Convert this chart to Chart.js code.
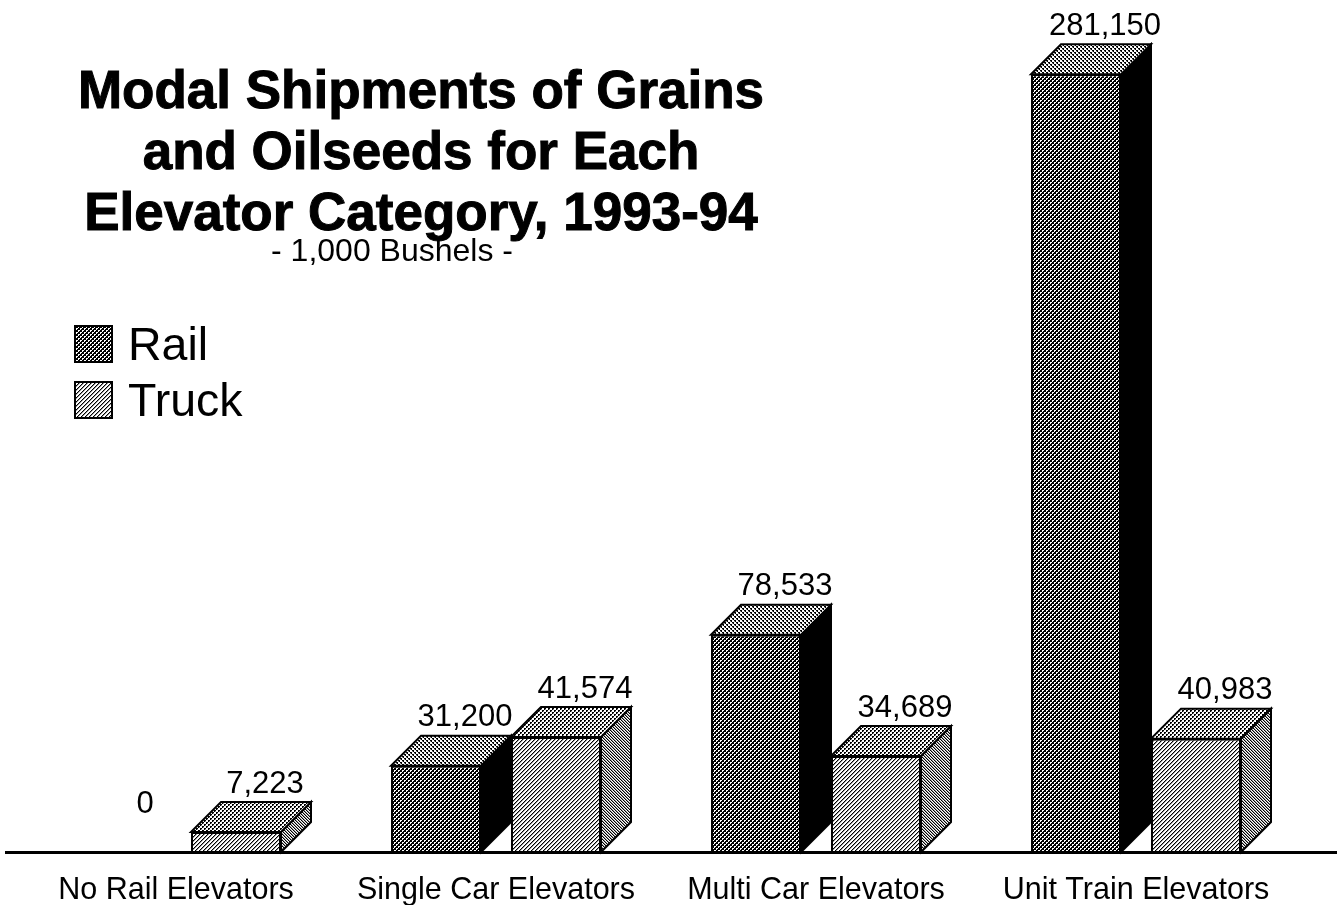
<!DOCTYPE html>
<html>
<head>
<meta charset="utf-8">
<title>Modal Shipments of Grains and Oilseeds</title>
<script src="https://cdn.jsdelivr.net/npm/chart.js@4/dist/chart.umd.min.js"></script>
<style>
  html, body { margin: 0; padding: 0; background: #fff; }
  canvas { display: block; }
</style>
</head>
<body>
<canvas id="chart" width="1340" height="905"></canvas>
<script>
const categories = ['No Rail Elevators', 'Single Car Elevators', 'Multi Car Elevators', 'Unit Train Elevators'];
const railValues = [0, 31200, 78533, 281150];
const truckValues = [7223, 41574, 34689, 40983];
const titleLines = ['Modal Shipments of Grains', 'and Oilseeds for Each', 'Elevator Category, 1993-94'];
const subtitle = '- 1,000 Bushels -';
const FONT = '"Liberation Sans", Arial, sans-serif';
const DEPTH = 30;

// builds a repeating fill out of rows of # (black), + (grey) and . (white)
function tile(rows) {
    const c = document.createElement('canvas');
    c.width = rows[0].length;
    c.height = rows.length;
    const g = c.getContext('2d');
    g.fillStyle = '#fff';
    g.fillRect(0, 0, c.width, c.height);
    rows.forEach((row, y) => {
        [...row].forEach((ch, x) => {
            if (ch === '.') return;
            g.fillStyle = ch === '#' ? '#000' : '#999';
            g.fillRect(x, y, 1, 1);
        });
    });
    return g.createPattern(c, 'repeat');
}

const railFront = tile(['..##', '.###', '##..', '##.#']);
const railTop = tile(['..##', '..+#', '##..', '+#..']);
const truckFront = tile(['.#+.', '#+..', '+..#', '..#+']);
const truckSide = tile(['#+.', '.#+', '+.#']);
const truckTop = tile(['##..', '#+..', '..##', '..#+']);

function face(ctx, pts, fill) {
    ctx.beginPath();
    pts.forEach((p, i) => (i ? ctx.lineTo(p[0], p[1]) : ctx.moveTo(p[0], p[1])));
    ctx.closePath();
    ctx.fillStyle = fill;
    ctx.fill();
    ctx.lineWidth = 2;
    ctx.strokeStyle = '#000';
    ctx.stroke();
}

// side and top faces go under the bars the library draws
const extrude = {
    id: 'extrude',
    beforeDatasetsDraw(chart) {
        const ctx = chart.ctx;
        const tops = [railTop, truckTop];
        const sides = ['#000', truckSide];
        chart.data.datasets.forEach((ds, d) => {
            chart.getDatasetMeta(d).data.forEach((bar, i) => {
                if (!ds.data[i]) return;
                const l = bar.x - bar.width / 2;
                const r = bar.x + bar.width / 2;
                const t = bar.y;
                const b = bar.base;
                face(ctx, [[r, t], [r + DEPTH, t - DEPTH], [r + DEPTH, b - DEPTH], [r, b]], sides[d]);
                face(ctx, [[l, t], [l + DEPTH, t - DEPTH], [r + DEPTH, t - DEPTH], [r, t]], tops[d]);
            });
        });
    }
};

const annotations = {
    id: 'annotations',
    afterDatasetsDraw(chart) {
        const ctx = chart.ctx;
        const base = chart.scales.y.getPixelForValue(0);
        ctx.save();
        ctx.fillStyle = '#000';
        ctx.fillRect(5, base - 1, 1332, 3);

        // value labels sit above the extruded top face
        ctx.textAlign = 'center';
        ctx.textBaseline = 'middle';
        ctx.font = '31px ' + FONT;
        chart.data.datasets.forEach((ds, d) => {
            chart.getDatasetMeta(d).data.forEach((bar, i) => {
                ctx.fillText(ds.data[i].toLocaleString('en-US'), bar.x + 29, bar.y - DEPTH - 18);
            });
        });

        // scanned title looks heavier than plain bold, so give it a thin outline
        ctx.font = 'bold 53px ' + FONT;
        ctx.strokeStyle = '#000';
        ctx.lineWidth = 1;
        titleLines.forEach((line, i) => {
            ctx.fillText(line, 421, 93 + i * 61);
            ctx.strokeText(line, 421, 93 + i * 61);
        });
        ctx.font = '32px ' + FONT;
        ctx.fillText(subtitle, 392, 252);

        // legend
        ctx.textAlign = 'left';
        ctx.font = '46.5px ' + FONT;
        chart.data.datasets.forEach((ds, d) => {
            const y = 326 + d * 56;
            ctx.fillStyle = ds.backgroundColor;
            ctx.fillRect(75, y, 37, 36);
            ctx.strokeStyle = '#000';
            ctx.lineWidth = 2;
            ctx.strokeRect(75, y, 37, 36);
            ctx.fillStyle = '#000';
            ctx.fillText(ds.label, 128, y + 21);
        });
        ctx.restore();
    }
};

new Chart(document.getElementById('chart'), {
    type: 'bar',
    data: {
        labels: categories,
        datasets: [
            { label: 'Rail', data: railValues, backgroundColor: railFront, borderColor: '#000', borderWidth: 2 },
            { label: 'Truck', data: truckValues, backgroundColor: truckFront, borderColor: '#000', borderWidth: 2 }
        ]
    },
    options: {
        responsive: false,
        animation: false,
        layout: { padding: { left: 16, right: 44, top: 0, bottom: 0 } },
        datasets: { bar: { categoryPercentage: 0.75, barPercentage: 0.75 } },
        plugins: { legend: { display: false }, title: { display: false }, tooltip: { enabled: false } },
        scales: {
            x: {
                grid: { display: false, drawTicks: false },
                border: { display: false },
                afterFit(scale) { scale.height = 53; },
                ticks: { color: '#000', padding: 20, maxRotation: 0, font: { family: FONT, size: 30.5 } }
            },
            y: { display: false, min: 0, max: 308000 }
        }
    },
    plugins: [extrude, annotations]
});
</script>
</body>
</html>
